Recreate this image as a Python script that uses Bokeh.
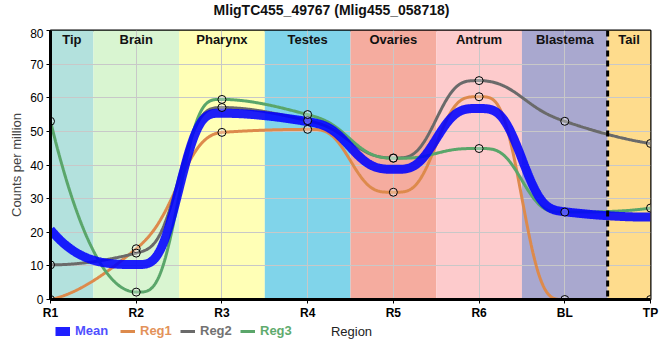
import numpy as np
from bokeh.plotting import figure
from bokeh.layouts import column
from bokeh.models import Range1d, FixedTicker, Span, Legend, LegendItem, ColumnDataSource, Label
from bokeh.core.properties import value
from bokeh.embed import file_html
from bokeh.resources import INLINE

# ---- data ----
title_text = "MligTC455_49767 (Mlig455_058718)"
tick_labels = ["R1", "R2", "R3", "R4", "R5", "R6", "BL", "TP"]
regions = ["Tip", "Brain", "Pharynx", "Testes", "Ovaries", "Antrum", "Blastema", "Tail"]
region_colors = ["#b3e1dd", "#d9f5d1", "#ffffb6", "#80d4ea", "#f5ac9f", "#fdcbcc", "#a9a8cf", "#fedc8d"]
reg1 = [0.0, 15.1, 49.7, 50.6, 31.9, 60.3, 0.0, 0.0]
reg2 = [10.3, 13.8, 57.1, 53.2, 42.1, 65.1, 53.0, 46.4]
reg3 = [53.0, 2.2, 59.5, 55.0, 42.0, 44.9, 26.0, 27.2]
mean = [20.8, 10.4, 55.4, 52.9, 38.7, 56.8, 26.1, 24.5]
series_names = ["Mean", "Reg1", "Reg2", "Reg3"]

FONT = "Liberation Sans"


def smooth_curve(x, y, xs):
    """Monotone (PCHIP-type) Hermite curve through the points; segments that are
    flat at both ends use a steeper S-shaped blend."""
    x = np.asarray(x, float)
    y = np.asarray(y, float)
    h = np.diff(x)
    delta = np.diff(y) / h
    n = len(x)
    d = np.zeros(n)
    for k in range(1, n - 1):
        if delta[k - 1] * delta[k] > 0:
            w1 = 2 * h[k] + h[k - 1]
            w2 = h[k] + 2 * h[k - 1]
            d[k] = (w1 + w2) / (w1 / delta[k - 1] + w2 / delta[k])

    def end(h0, h1, d0, d1):
        s = ((2 * h0 + h1) * d0 - h0 * d1) / (h0 + h1)
        if np.sign(s) != np.sign(d0):
            s = 0.0
        elif np.sign(d0) != np.sign(d1) and abs(s) > abs(3 * d0):
            s = 3 * d0
        return s

    d[0] = end(h[0], h[1], delta[0], delta[1])
    d[-1] = end(h[-1], h[-2], delta[-1], delta[-2])

    # weight of the steeper blend per segment
    seg_w = np.zeros(n - 1)
    for k in range(n - 1):
        if abs(delta[k]) > 1e-9:
            seg_w[k] = max(0.0, 1.0 - (abs(d[k]) + abs(d[k + 1])) / abs(delta[k]))

    idx = np.clip(np.searchsorted(x, xs) - 1, 0, n - 2)
    t = (xs - x[idx]) / h[idx]
    ss = 3 * t**2 - 2 * t**3
    ss2 = 3 * ss**2 - 2 * ss**3
    w = seg_w[idx]
    blend = (1 - w) * ss + w * ss2
    h10 = t**3 - 2 * t**2 + t
    h11 = t**3 - t**2
    return (1 - blend) * y[idx] + blend * y[idx + 1] + h10 * h[idx] * d[idx] + h11 * h[idx] * d[idx + 1]


n = len(tick_labels)
xpos = np.arange(n, dtype=float)
xs = np.linspace(0, n - 1, 700)


def strip(height):
    f = figure(width=660, height=height, output_backend="svg", toolbar_location=None,
               x_range=Range1d(50, 650), y_range=Range1d(0, height), x_axis_type=None, y_axis_type=None,
               min_border_left=50, min_border_right=10, min_border_top=0, min_border_bottom=0)
    f.outline_line_color = None
    f.grid.visible = False
    return f


# title strip
tf = strip(28)
tf.add_layout(Label(x=331, y=19, text=title_text, text_align="center", text_baseline="middle",
                    text_font=FONT, text_font_size="14px", text_font_style="bold", text_color="#111111"))

p = figure(width=660, height=294, output_backend="svg", toolbar_location=None,
           x_range=Range1d(0, n - 1), y_range=Range1d(0, 80),
           min_border_left=50, min_border_right=10, min_border_top=2, min_border_bottom=22)

# region bands
lefts = [max(i - 0.5, 0) for i in range(n)]
rights = [min(i + 0.5, n - 1) for i in range(n)]
band_src = ColumnDataSource(dict(left=lefts, right=rights, color=region_colors,
                                 cx=[(a + b) / 2 for a, b in zip(lefts, rights)],
                                 name=regions, top=[80] * n))
p.quad(left="left", right="right", bottom=0, top="top", fill_color="color", line_color=None,
       source=band_src, level="image")
p.text(x="cx", y="top", text="name", source=band_src, text_align="center", text_baseline="top",
       y_offset=1, text_font=value(FONT), text_font_size="13px", text_font_style="bold",
       text_color="#111111")

# grid
p.grid.grid_line_color = "#c8c8c8"
p.grid.grid_line_width = 1
p.xaxis.ticker = FixedTicker(ticks=list(xpos))
p.xaxis.major_label_overrides = {i: lab for i, lab in enumerate(tick_labels)}
p.yaxis.ticker = FixedTicker(ticks=list(range(0, 81, 10)))

# axes
for ax in (p.xaxis[0], p.yaxis[0]):
    ax.axis_line_width = 3
    ax.axis_line_color = "black"
    ax.minor_tick_line_color = None
    ax.major_tick_line_color = "black"
    ax.major_tick_out = 4
    ax.major_tick_in = 0
    ax.major_label_text_font = FONT
    ax.axis_label_text_font = FONT
    ax.axis_label_text_font_style = "normal"
    ax.axis_label_text_font_size = "13px"
    ax.major_label_text_color = "black"
p.xaxis.major_label_text_font_size = "12px"
p.xaxis.major_label_text_font_style = "bold"
p.xaxis.major_label_standoff = 2
p.yaxis.major_label_text_font_size = "12px"
p.yaxis.major_label_standoff = 3
p.yaxis.axis_label = "Counts per million"
p.yaxis.axis_label_standoff = 3

p.outline_line_color = "black"
p.outline_line_width = 2

# curves
c1 = "#dd8a4c"
c2 = "#6a6a6a"
c3 = "#5aa66a"
cm = "#0000ff"
p.line(xs, smooth_curve(xpos, reg1, xs), line_color=c1, line_width=3)
p.line(xs, smooth_curve(xpos, reg2, xs), line_color=c2, line_width=3)
p.line(xs, smooth_curve(xpos, reg3, xs), line_color=c3, line_width=3)
p.line(xs, smooth_curve(xpos, mean, xs), line_color=cm, line_width=9, line_alpha=0.88)

for ser in (reg1, reg2, reg3):
    p.scatter(xpos, ser, size=8, fill_color="white", fill_alpha=0.3, line_color="black", line_width=1)

p.add_layout(Span(location=6.5, dimension="height", line_color="black", line_width=3, line_dash="6 4"))

# legend strip below the chart (one legend per series so each label takes its colour)
lf = strip(36)
leg_styles = [(cm, 9, 0.88, "#4f4fff", 5), (c1, 3, 1.0, "#e3925a", 70),
              (c2, 3, 1.0, "#727272", 130), (c3, 3, 1.0, "#5fab6e", 190)]
for name, (lc, lw, la, tc, xo) in zip(series_names, leg_styles):
    # legend-only renderer, kept outside the visible range
    dummy = lf.line([0, 1], [-100, -100], line_color=lc, line_width=lw, line_alpha=la)
    lg = Legend(items=[LegendItem(label=name, renderers=[dummy])], location=(xo, 20),
                orientation="horizontal", glyph_width=15, glyph_height=14, label_standoff=5,
                padding=0, margin=0, border_line_color=None, background_fill_alpha=0,
                label_text_font=FONT, label_text_font_size="13px", label_text_font_style="bold",
                label_text_color=tc, label_height=14)
    lf.add_layout(lg)

lf.add_layout(Label(x=351, y=27, text="Region", text_align="center", text_baseline="middle",
                    text_font=FONT, text_font_size="13px", text_color="#222222"))

layout = column(tf, p, lf, spacing=0)
open("out.html", "w").write(file_html(layout, INLINE))
